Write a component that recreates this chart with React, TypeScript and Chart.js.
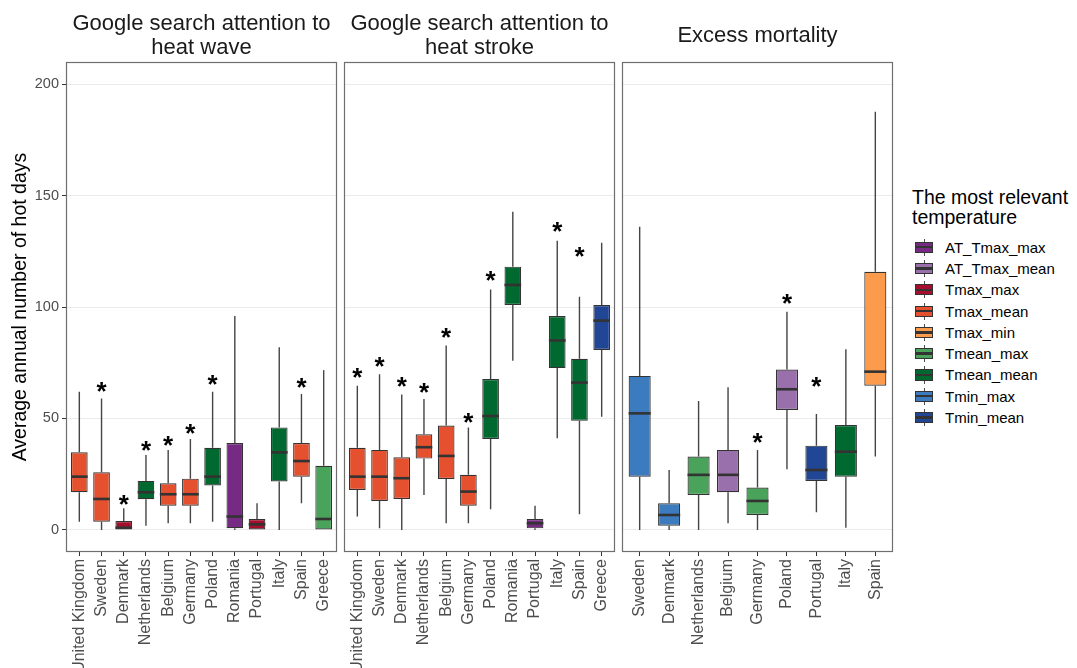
import React, { useEffect, useRef } from 'react';
import { Chart, registerables } from 'chart.js';

Chart.register(...registerables);

const FONT = "'Liberation Sans', Arial, Helvetica, sans-serif";

// Legend: the most relevant temperature
const tempNames = ['AT_Tmax_max', 'AT_Tmax_mean', 'Tmax_max', 'Tmax_mean', 'Tmax_min', 'Tmean_max', 'Tmean_mean', 'Tmin_max', 'Tmin_mean'];
const tempColors = ['#762a83', '#9970ab', '#a50f2d', '#e5502f', '#fd9b4c', '#4aa35a', '#00692f', '#3c7bbd', '#224696'];

const yTicks = [0, 50, 100, 150, 200];
const yTitle = 'Average annual number of hot days';

// Panel 1: Google search attention to heat wave
const waveCountries = ['United Kingdom', 'Sweden', 'Denmark', 'Netherlands', 'Belgium', 'Germany', 'Poland', 'Romania', 'Portugal', 'Italy', 'Spain', 'Greece'];
const waveMin = [3.7, 0, 0, 1.9, 3.0, 3.0, 3.7, 0, 0, 0, 12.0, 0];
const waveQ1 = [16.9, 3.7, 0, 13.8, 10.9, 10.9, 19.9, 0.8, 0, 21.7, 23.9, 0];
const waveMedian = [23.9, 13.9, 1.0, 16.9, 16.0, 16.0, 23.9, 6.0, 2.5, 34.8, 30.9, 4.9];
const waveQ3 = [34.8, 25.9, 4.0, 22.0, 20.9, 23.0, 36.9, 39.0, 4.9, 46.0, 39.0, 28.8];
const waveMax = [62.0, 59.0, 9.7, 33.6, 35.9, 40.8, 62.0, 96.0, 12.0, 81.9, 61.0, 71.7];
const waveTemp = ['Tmax_mean', 'Tmax_mean', 'Tmax_max', 'Tmean_mean', 'Tmax_mean', 'Tmax_mean', 'Tmean_mean', 'AT_Tmax_max', 'Tmax_max', 'Tmean_mean', 'Tmax_mean', 'Tmean_max'];
const waveStar = [null, 64.3, 13.5, 37.7, 39.9, 45.1, 67.3, null, null, null, 66.1, null];

// Panel 2: Google search attention to heat stroke
const strokeCountries = ['United Kingdom', 'Sweden', 'Denmark', 'Netherlands', 'Belgium', 'Germany', 'Poland', 'Romania', 'Portugal', 'Italy', 'Spain', 'Greece'];
const strokeMin = [6.0, 0.7, 0, 15.7, 3.0, 3.0, 9.3, 75.9, 0, 41.1, 7.0, 50.8];
const strokeQ1 = [17.9, 13.0, 13.9, 32.0, 22.9, 10.9, 40.8, 100.9, 0.7, 72.6, 49.0, 80.7];
const strokeMedian = [23.9, 23.9, 23.2, 37.1, 33.2, 17.2, 51.1, 109.9, 3.0, 85.0, 66.1, 93.9];
const strokeQ3 = [36.9, 35.9, 32.6, 42.9, 46.8, 24.7, 67.7, 118.1, 4.9, 96.0, 76.8, 100.9];
const strokeMax = [64.7, 69.8, 60.8, 58.7, 82.7, 45.9, 107.9, 142.7, 10.8, 129.7, 104.6, 128.8];
const strokeTemp = ['Tmax_mean', 'Tmax_mean', 'Tmax_mean', 'Tmax_mean', 'Tmax_mean', 'Tmax_mean', 'Tmean_mean', 'Tmean_mean', 'AT_Tmax_max', 'Tmean_mean', 'Tmean_mean', 'Tmin_mean'];
const strokeStar = [70.3, 75.5, 66.2, 63.5, 88.2, 50.1, 113.9, null, null, 136.0, 124.8, null];

// Panel 3: Excess mortality
const mortCountries = ['Sweden', 'Denmark', 'Netherlands', 'Belgium', 'Germany', 'Poland', 'Portugal', 'Italy', 'Spain'];
const mortMin = [0, 0, 0, 3.0, 0, 27.2, 7.9, 1.0, 32.9];
const mortQ1 = [23.9, 1.9, 15.7, 16.9, 6.7, 53.8, 22.0, 23.9, 64.7];
const mortMedian = [52.3, 6.7, 24.7, 24.7, 13.0, 63.1, 26.9, 35.1, 71.0];
const mortQ3 = [69.1, 12.0, 32.9, 35.9, 19.0, 72.0, 37.8, 47.1, 115.8];
const mortMax = [136.0, 26.9, 57.8, 64.0, 35.9, 97.9, 52.0, 81.0, 187.6];
const mortTemp = ['Tmin_max', 'Tmin_max', 'Tmean_max', 'AT_Tmax_mean', 'Tmean_max', 'AT_Tmax_mean', 'Tmin_mean', 'Tmean_mean', 'Tmax_min'];
const mortStar = [null, null, null, null, 41.1, 103.6, 66.5, null, null];

const colorOf = (t: string) => tempColors[tempNames.indexOf(t)];

type PanelProps = {
  title: string[];
  countries: string[];
  mins: number[];
  q1: number[];
  med: number[];
  q3: number[];
  maxs: number[];
  temps: string[];
  stars: (number | null)[];
  left: number;
  width: number;
  padLeft: number;
  showY: boolean;
  titlePadTop: number;
  titlePadBottom: number;
};

function Panel(p: PanelProps) {
  const ref = useRef<HTMLCanvasElement>(null);
  useEffect(() => {
    const canvas = ref.current as HTMLCanvasElement;
    const extras = {
      id: 'boxExtras',
      beforeDatasetsDraw(chart: any) {
        const ctx = chart.ctx;
        const ys = chart.scales.y;
        const bars = chart.getDatasetMeta(0).data;
        ctx.save();
        ctx.strokeStyle = '#444444';
        ctx.lineWidth = 1.4;
        bars.forEach((bar: any, i: number) => {
          const x = bar.x;
          ctx.beginPath();
          ctx.moveTo(x, ys.getPixelForValue(p.maxs[i]));
          ctx.lineTo(x, ys.getPixelForValue(p.q3[i]));
          ctx.moveTo(x, ys.getPixelForValue(p.q1[i]));
          ctx.lineTo(x, ys.getPixelForValue(p.mins[i]));
          ctx.stroke();
        });
        ctx.restore();
      },
      afterDatasetsDraw(chart: any) {
        const ctx = chart.ctx;
        const ys = chart.scales.y;
        const bars = chart.getDatasetMeta(0).data;
        ctx.save();
        ctx.strokeStyle = '#333333';
        ctx.lineWidth = 2.6;
        bars.forEach((bar: any, i: number) => {
          const y = ys.getPixelForValue(p.med[i]);
          ctx.beginPath();
          ctx.moveTo(bar.x - bar.width / 2, y);
          ctx.lineTo(bar.x + bar.width / 2, y);
          ctx.stroke();
        });
        ctx.fillStyle = '#000000';
        ctx.font = `bold 26px ${FONT}`;
        ctx.textAlign = 'center';
        ctx.textBaseline = 'alphabetic';
        const m = ctx.measureText('*');
        const off = (m.actualBoundingBoxAscent - m.actualBoundingBoxDescent) / 2;
        bars.forEach((bar: any, i: number) => {
          const s = p.stars[i];
          if (s === null || s === undefined) return;
          ctx.fillText('*', bar.x, ys.getPixelForValue(s) + off);
        });
        ctx.restore();
      },
      afterDraw(chart: any) {
        const ctx = chart.ctx;
        const a = chart.chartArea;
        ctx.save();
        ctx.strokeStyle = '#6e6e6e';
        ctx.lineWidth = 1.2;
        ctx.strokeRect(Math.round(a.left) + 0.5, Math.round(a.top) + 0.5, Math.round(a.right - a.left) - 1, Math.round(a.bottom - a.top) - 1);
        ctx.restore();
      },
    };

    const chart = new Chart(canvas, {
      type: 'bar',
      data: {
        datasets: [
          {
            data: p.countries.map((_, i) => ({ x: i, y: [p.q1[i], p.q3[i]] })) as any,
            backgroundColor: p.temps.map(colorOf),
            borderColor: '#333333',
            borderWidth: 1.2,
            borderSkipped: false,
            categoryPercentage: 1,
            barPercentage: 0.75,
          },
        ],
      },
      options: {
        animation: false,
        responsive: false,
        events: [],
        layout: { padding: { left: p.padLeft, right: 3, top: 0, bottom: 0 } },
        plugins: {
          legend: { display: false },
          tooltip: { enabled: false },
          title: {
            display: true,
            text: p.title,
            fullSize: false,
            color: '#1a1a1a',
            font: { family: FONT, size: 22, weight: 'normal', lineHeight: 1.06 },
            padding: { top: p.titlePadTop, bottom: p.titlePadBottom },
          },
        },
        scales: {
          x: {
            type: 'linear',
            offset: false,
            min: -0.6,
            max: p.countries.length - 0.4,
            afterBuildTicks: (s: any) => {
              s.ticks = p.countries.map((_, i) => ({ value: i }));
            },
            afterFit: (s: any) => {
              s.height = 116;
              s.paddingLeft = 0;
              s.paddingRight = 0;
            },
            ticks: {
              autoSkip: false,
              minRotation: 90,
              maxRotation: 90,
              padding: 3,
              color: '#4d4d4d',
              font: { family: FONT, size: 16 },
              callback: (v: any) => p.countries[Math.round(v)] ?? '',
            },
            grid: { offset: false, drawOnChartArea: false, drawTicks: true, tickLength: 4, tickColor: '#333333', tickWidth: 1 },
            border: { display: false },
          },
          y: {
            min: -9.9,
            max: 209.9,
            afterBuildTicks: (s: any) => {
              s.ticks = yTicks.map((v) => ({ value: v }));
            },
            afterFit: (s: any) => {
              s.width = p.showY ? 66 : 0;
            },
            ticks: { display: p.showY, padding: 3, color: '#4d4d4d', font: { family: FONT, size: 14.5 } },
            grid: { color: '#ebebeb', lineWidth: 1, drawTicks: p.showY, tickLength: 4, tickColor: '#333333' },
            border: { display: false },
            title: {
              display: p.showY,
              text: yTitle,
              color: '#000000',
              font: { family: FONT, size: 19.5 },
              padding: { top: 8.5, bottom: 0 },
            },
          },
        },
      } as any,
      plugins: [extras],
    });
    return () => chart.destroy();
  }, []);
  return (
    <canvas
      ref={ref}
      width={p.width}
      height={668}
      style={{ position: 'absolute', left: p.left, top: 0, width: p.width, height: 668 }}
    />
  );
}

function Legend() {
  const rowH = 21.3;
  return (
    <div style={{ position: 'absolute', left: 912, top: 0, fontFamily: FONT, color: '#000' }}>
      <div style={{ position: 'absolute', left: 0, top: 187, fontSize: 19.5, lineHeight: '20px', whiteSpace: 'nowrap' }}>
        The most relevant
        <br />
        temperature
      </div>
      {tempNames.map((name, i) => (
        <div key={name} style={{ position: 'absolute', left: 0, top: 236.6 + i * rowH, height: rowH, width: 160 }}>
          <div style={{ position: 'absolute', left: 11.5, top: 2.1, width: 1, height: rowH - 4.2, background: '#4d4d4d' }} />
          <div
            style={{
              position: 'absolute',
              left: 3,
              top: 5,
              width: 18,
              height: 11.3,
              boxSizing: 'border-box',
              background: tempColors[i],
              border: '1px solid #333',
            }}
          />
          <div style={{ position: 'absolute', left: 3, top: 9.4, width: 18, height: 2.4, background: '#333' }} />
          <div style={{ position: 'absolute', left: 33, top: 0, fontSize: 15, lineHeight: rowH + 'px', whiteSpace: 'nowrap' }}>{name}</div>
        </div>
      ))}
    </div>
  );
}

export default function App() {
  return (
    <div style={{ position: 'absolute', left: 0, top: 0, width: 1077, height: 668, background: '#fff', overflow: 'hidden' }}>
      <Panel
        title={['Google search attention to', 'heat wave']}
        countries={waveCountries}
        mins={waveMin}
        q1={waveQ1}
        med={waveMedian}
        q3={waveQ3}
        maxs={waveMax}
        temps={waveTemp}
        stars={waveStar}
        left={0}
        width={340}
        padLeft={0}
        showY={true}
        titlePadTop={12.5}
        titlePadBottom={2.9}
      />
      <Panel
        title={['Google search attention to', 'heat stroke']}
        countries={strokeCountries}
        mins={strokeMin}
        q1={strokeQ1}
        med={strokeMedian}
        q3={strokeQ3}
        maxs={strokeMax}
        temps={strokeTemp}
        stars={strokeStar}
        left={340}
        width={278}
        padLeft={4}
        showY={false}
        titlePadTop={12.5}
        titlePadBottom={2.9}
      />
      <Panel
        title={['Excess mortality']}
        countries={mortCountries}
        mins={mortMin}
        q1={mortQ1}
        med={mortMedian}
        q3={mortQ3}
        maxs={mortMax}
        temps={mortTemp}
        stars={mortStar}
        left={618}
        width={278}
        padLeft={4}
        showY={false}
        titlePadTop={24}
        titlePadBottom={14.7}
      />
      <Legend />
    </div>
  );
}
